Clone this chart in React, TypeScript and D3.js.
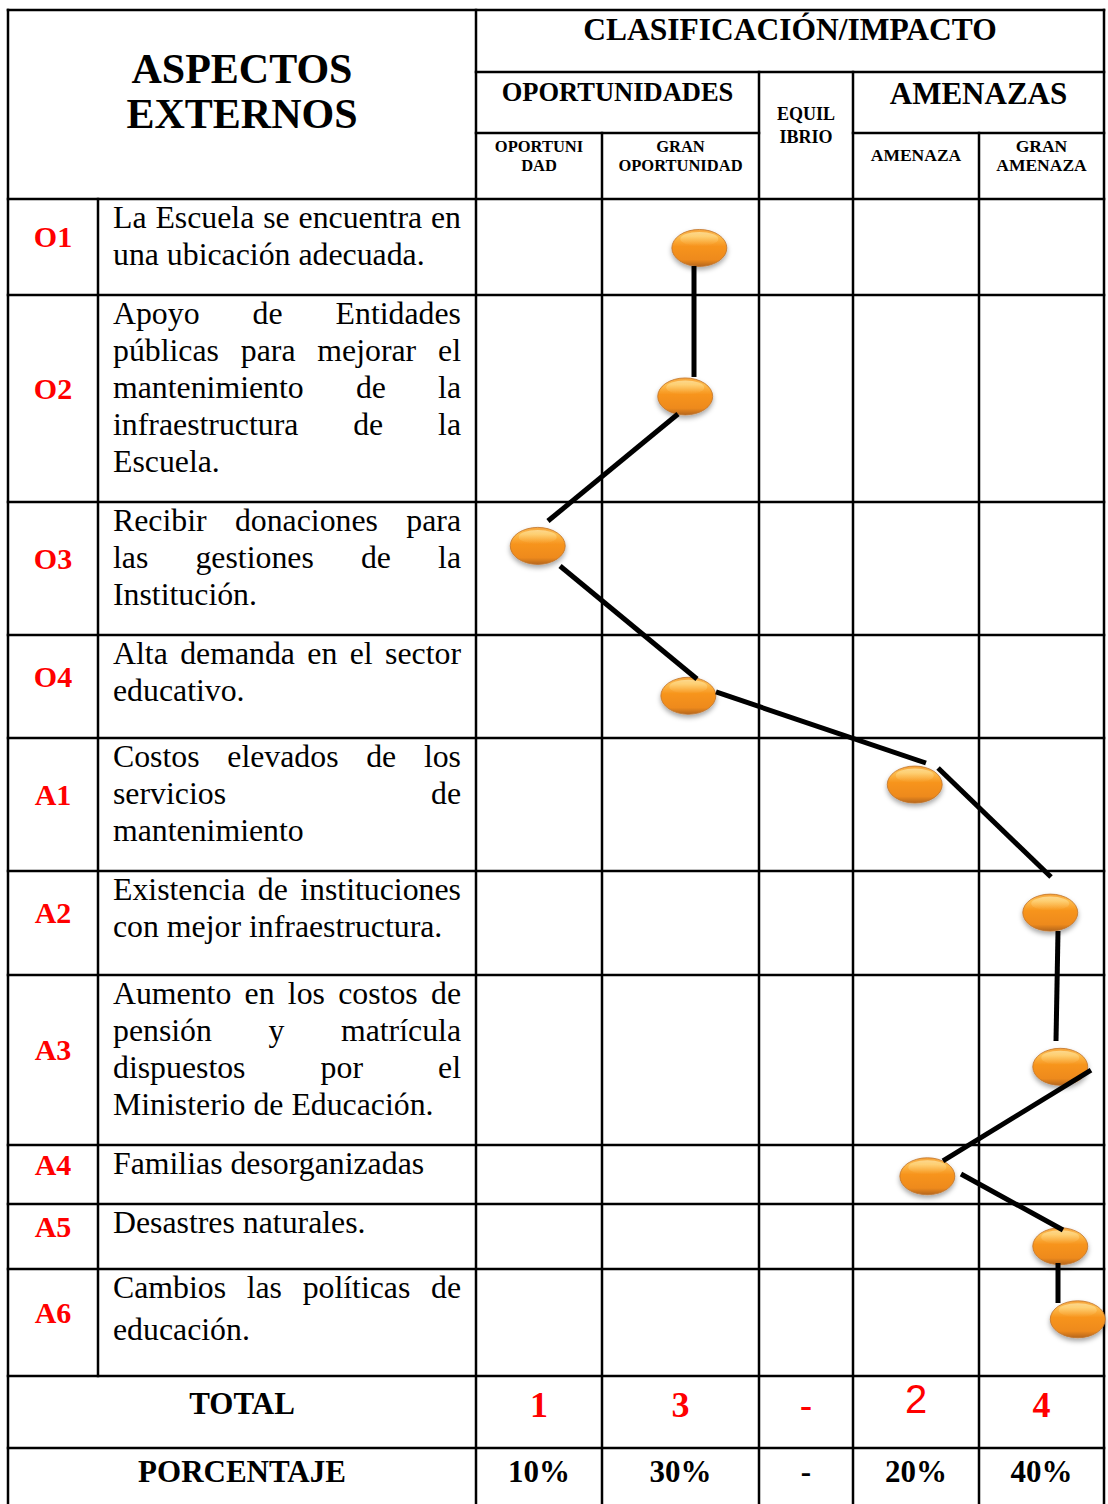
import { useEffect, useRef } from 'react';
import * as d3 from 'd3';

// ── Data ──
const CODES = ['O1', 'O2', 'O3', 'O4', 'A1', 'A2', 'A3', 'A4', 'A5', 'A6'];

const DESCRIPTIONS: string[][] = [
  ['La Escuela se encuentra en', 'una ubicación adecuada.'],
  ['Apoyo de Entidades', 'públicas para mejorar el', 'mantenimiento de la', 'infraestructura de la', 'Escuela.'],
  ['Recibir donaciones para', 'las gestiones de la', 'Institución.'],
  ['Alta demanda en el sector', 'educativo.'],
  ['Costos elevados de los', 'servicios de', 'mantenimiento'],
  ['Existencia de instituciones', 'con mejor infraestructura.'],
  ['Aumento en los costos de', 'pensión y matrícula', 'dispuestos por el', 'Ministerio de Educación.'],
  ['Familias desorganizadas'],
  ['Desastres naturales.'],
  ['Cambios las políticas de', 'educación.'],
];

const CATEGORY_LINES: string[][] = [
  ['OPORTUNI', 'DAD'],
  ['GRAN', 'OPORTUNIDAD'],
  ['EQUIL', 'IBRIO'],
  ['AMENAZA'],
  ['GRAN', 'AMENAZA'],
];

// impact, in column units (0..5 across the five classes)
const IMPACT = [1.62, 1.53, 0.49, 1.55, 3.49, 4.57, 4.65, 3.59, 4.65, 4.79];
// vertical spot of each marker, in row units (row i spans i..i+1)
const ROW_POS = [0.51, 1.49, 2.33, 3.59, 4.35, 5.40, 6.54, 7.53, 8.65, 9.47];

// hand drawn connectors between consecutive markers, [impact, row]
const LINK_FROM: [number, number][] = [
  [1.586, 0.698], [1.484, 1.575], [0.667, 2.481], [1.726, 3.553], [3.675, 4.226],
  [4.632, 5.577], [4.896, 6.559], [3.857, 7.492], [4.632, 8.908],
];
const LINK_TO: [number, number][] = [
  [1.586, 1.396], [0.571, 2.143], [1.605, 3.427], [3.579, 4.188], [4.576, 5.058],
  [4.616, 6.388], [3.714, 7.271], [4.672, 8.4], [4.632, 9.318],
];

const TOTALS = ['1', '3', '-', '2', '4'];
const PERCENTS = ['10%', '30%', '-', '20%', '40%'];

// ── Layout ──
const W = 1108;
const H = 1504;
const COL_X = [8, 98, 476, 602, 759, 853, 979, 1104];
const ROW_Y = [199, 295, 502, 635, 738, 871, 975, 1145, 1204, 1269, 1376];
const LINE_GAP = [37, 37, 37, 37, 37, 37, 37, 37, 37, 42];
const TOP = 10;
const HEAD1 = 72;
const HEAD2 = 133;
const TOTAL_END = 1448;
const SERIF = "'Liberation Serif', 'Times New Roman', serif";
const RED = '#ff0000';

export default function App() {
  const svgRef = useRef<SVGSVGElement>(null);

  useEffect(() => {
    const svg = d3.select(svgRef.current!);
    svg.selectAll('*').remove();

    const x = d3.scaleLinear().domain(d3.range(6)).range(COL_X.slice(2));
    const y = d3.scaleLinear().domain(d3.range(ROW_Y.length)).range(ROW_Y);

    // ── defs: oval fill, shine, shadow ──
    const defs = svg.append('defs');
    const fill = defs.append('linearGradient').attr('id', 'ovalFill').attr('x1', 0).attr('y1', 0).attr('x2', 0).attr('y2', 1);
    [['0%', '#f6a23a'], ['18%', '#fdbd4e'], ['45%', '#f7941d'], ['82%', '#ee8a1d'], ['100%', '#b5661f']]
      .forEach(([o, c]) => fill.append('stop').attr('offset', o).attr('stop-color', c));
    const shine = defs.append('linearGradient').attr('id', 'ovalShine').attr('x1', 0).attr('y1', 0).attr('x2', 0).attr('y2', 1);
    shine.append('stop').attr('offset', '0%').attr('stop-color', '#fff6c0').attr('stop-opacity', 0.6);
    shine.append('stop').attr('offset', '100%').attr('stop-color', '#ffd27a').attr('stop-opacity', 0);
    const shadow = defs.append('filter').attr('id', 'ovalShadow').attr('x', '-30%').attr('y', '-30%').attr('width', '160%').attr('height', '180%');
    shadow.append('feDropShadow').attr('dx', 0).attr('dy', 3).attr('stdDeviation', 2.5)
      .attr('flood-color', '#000').attr('flood-opacity', 0.35);

    svg.append('rect').attr('width', W).attr('height', H).attr('fill', '#fff');

    // ── grid ──
    const grid = svg.append('g').attr('stroke', '#000').attr('stroke-width', 2.5).attr('stroke-linecap', 'square');
    const hl = (yy: number, a: number, b: number) => grid.append('line').attr('x1', a).attr('x2', b).attr('y1', yy).attr('y2', yy);
    const vl = (xx: number, a: number, b: number) => grid.append('line').attr('x1', xx).attr('x2', xx).attr('y1', a).attr('y2', b);
    hl(TOP, COL_X[0], COL_X[7]);
    hl(HEAD1, COL_X[2], COL_X[7]);
    hl(HEAD2, COL_X[2], COL_X[4]);
    hl(HEAD2, COL_X[5], COL_X[7]);
    ROW_Y.forEach(r => hl(r, COL_X[0], COL_X[7]));
    hl(TOTAL_END, COL_X[0], COL_X[7]);
    vl(COL_X[0], TOP, H + 10);
    vl(COL_X[1], ROW_Y[0], ROW_Y[ROW_Y.length - 1]);
    vl(COL_X[2], TOP, H + 10);
    vl(COL_X[3], HEAD2, H + 10);
    vl(COL_X[4], HEAD1, H + 10);
    vl(COL_X[5], HEAD1, H + 10);
    vl(COL_X[6], HEAD2, H + 10);
    vl(COL_X[7], TOP, H + 10);

    const txt = svg.append('g').attr('font-family', SERIF).attr('fill', '#000');
    const put = (tx: number, ty: number, s: string, size: number, opts: { bold?: boolean; anchor?: string; fill?: string; family?: string } = {}) =>
      txt.append('text')
        .attr('x', tx).attr('y', ty)
        .attr('font-size', size)
        .attr('font-weight', opts.bold ? 700 : 400)
        .attr('text-anchor', opts.anchor ?? 'middle')
        .attr('fill', opts.fill ?? '#000')
        .attr('font-family', opts.family ?? SERIF)
        .text(s);

    // ── header ──
    const leftMid = (COL_X[0] + COL_X[2]) / 2;
    put(leftMid, 83, 'ASPECTOS', 42, { bold: true });
    put(leftMid, 128, 'EXTERNOS', 42, { bold: true });
    put((COL_X[2] + COL_X[7]) / 2, 40, 'CLASIFICACIÓN/IMPACTO', 31.5, { bold: true });
    put((COL_X[2] + COL_X[4]) / 2, 101, 'OPORTUNIDADES', 26.5, { bold: true });
    put((COL_X[5] + COL_X[7]) / 2, 104, 'AMENAZAS', 31, { bold: true });

    CATEGORY_LINES.forEach((lines, i) => {
      const cx = (COL_X[i + 2] + COL_X[i + 3]) / 2;
      if (i === 2) {
        lines.forEach((l, j) => put(cx, 120 + j * 23, l, 18, { bold: true }));
      } else if (lines.length === 1) {
        put(cx, 161, lines[0], 17.5, { bold: true });
      } else {
        lines.forEach((l, j) => put(cx, 152 + j * 19, l, i === 4 ? 17.5 : 16.5, { bold: true }));
      }
    });

    // ── rows ──
    const DESC_SIZE = 31.8;
    const measure = svg.append('text').attr('font-family', SERIF).attr('font-size', DESC_SIZE).attr('visibility', 'hidden');
    const wordWidth = (w: string) => { measure.text(w); return (measure.node() as SVGTextElement).getComputedTextLength(); };
    const textL = 113;
    const textR = 461;

    CODES.forEach((code, i) => {
      const top = ROW_Y[i];
      const mid = (ROW_Y[i] + ROW_Y[i + 1]) / 2;
      put((COL_X[0] + COL_X[1]) / 2, mid, code, 30, { bold: true, fill: RED });

      const lines = DESCRIPTIONS[i];
      lines.forEach((line, j) => {
        const by = top + 29 + j * LINE_GAP[i];
        const last = j === lines.length - 1;
        const words = line.split(' ');
        if (last || words.length < 2) {
          put(textL, by, line, DESC_SIZE, { anchor: 'start' });
        } else {
          const widths = words.map(wordWidth);
          const gap = (textR - textL - d3.sum(widths)) / (words.length - 1);
          let cx = textL;
          words.forEach((w, k) => {
            put(cx, by, w, DESC_SIZE, { anchor: 'start' });
            cx += widths[k] + gap;
          });
        }
      });
    });
    measure.remove();

    // ── totals ──
    put(leftMid, 1414, 'TOTAL', 31, { bold: true });
    put(leftMid, 1482, 'PORCENTAJE', 31, { bold: true });
    TOTALS.forEach((t, i) => {
      const cx = (COL_X[i + 2] + COL_X[i + 3]) / 2;
      if (t === '2') put(cx, 1413, t, 40, { fill: RED, family: "'Liberation Sans', Arial, sans-serif" });
      else put(cx, 1417, t, 36, { bold: true, fill: RED });
    });
    PERCENTS.forEach((p, i) => {
      const cx = (COL_X[i + 2] + COL_X[i + 3]) / 2;
      put(cx, 1482, p, 31, { bold: true });
    });

    // ── markers ──
    const marks = svg.append('g').selectAll('g').data(CODES).join('g')
      .attr('transform', (_d, i) => `translate(${x(IMPACT[i])},${y(ROW_POS[i])})`);
    marks.append('ellipse').attr('rx', 27.5).attr('ry', 18.5)
      .attr('fill', 'url(#ovalFill)').attr('stroke', '#c0732a').attr('stroke-width', 0.8)
      .attr('filter', 'url(#ovalShadow)');
    marks.append('ellipse').attr('cy', -9).attr('rx', 19).attr('ry', 7).attr('fill', 'url(#ovalShine)');

    // ── connectors ──
    svg.append('g').selectAll('line').data(LINK_FROM).join('line')
      .attr('x1', d => x(d[0])).attr('y1', d => y(d[1]))
      .attr('x2', (_d, i) => x(LINK_TO[i][0])).attr('y2', (_d, i) => y(LINK_TO[i][1]))
      .attr('stroke', '#000').attr('stroke-width', 5);
  }, []);

  return (
    <svg ref={svgRef} width={W} height={H}
      style={{ position: 'absolute', left: 0, top: 0, display: 'block', background: '#fff' }} />
  );
}
